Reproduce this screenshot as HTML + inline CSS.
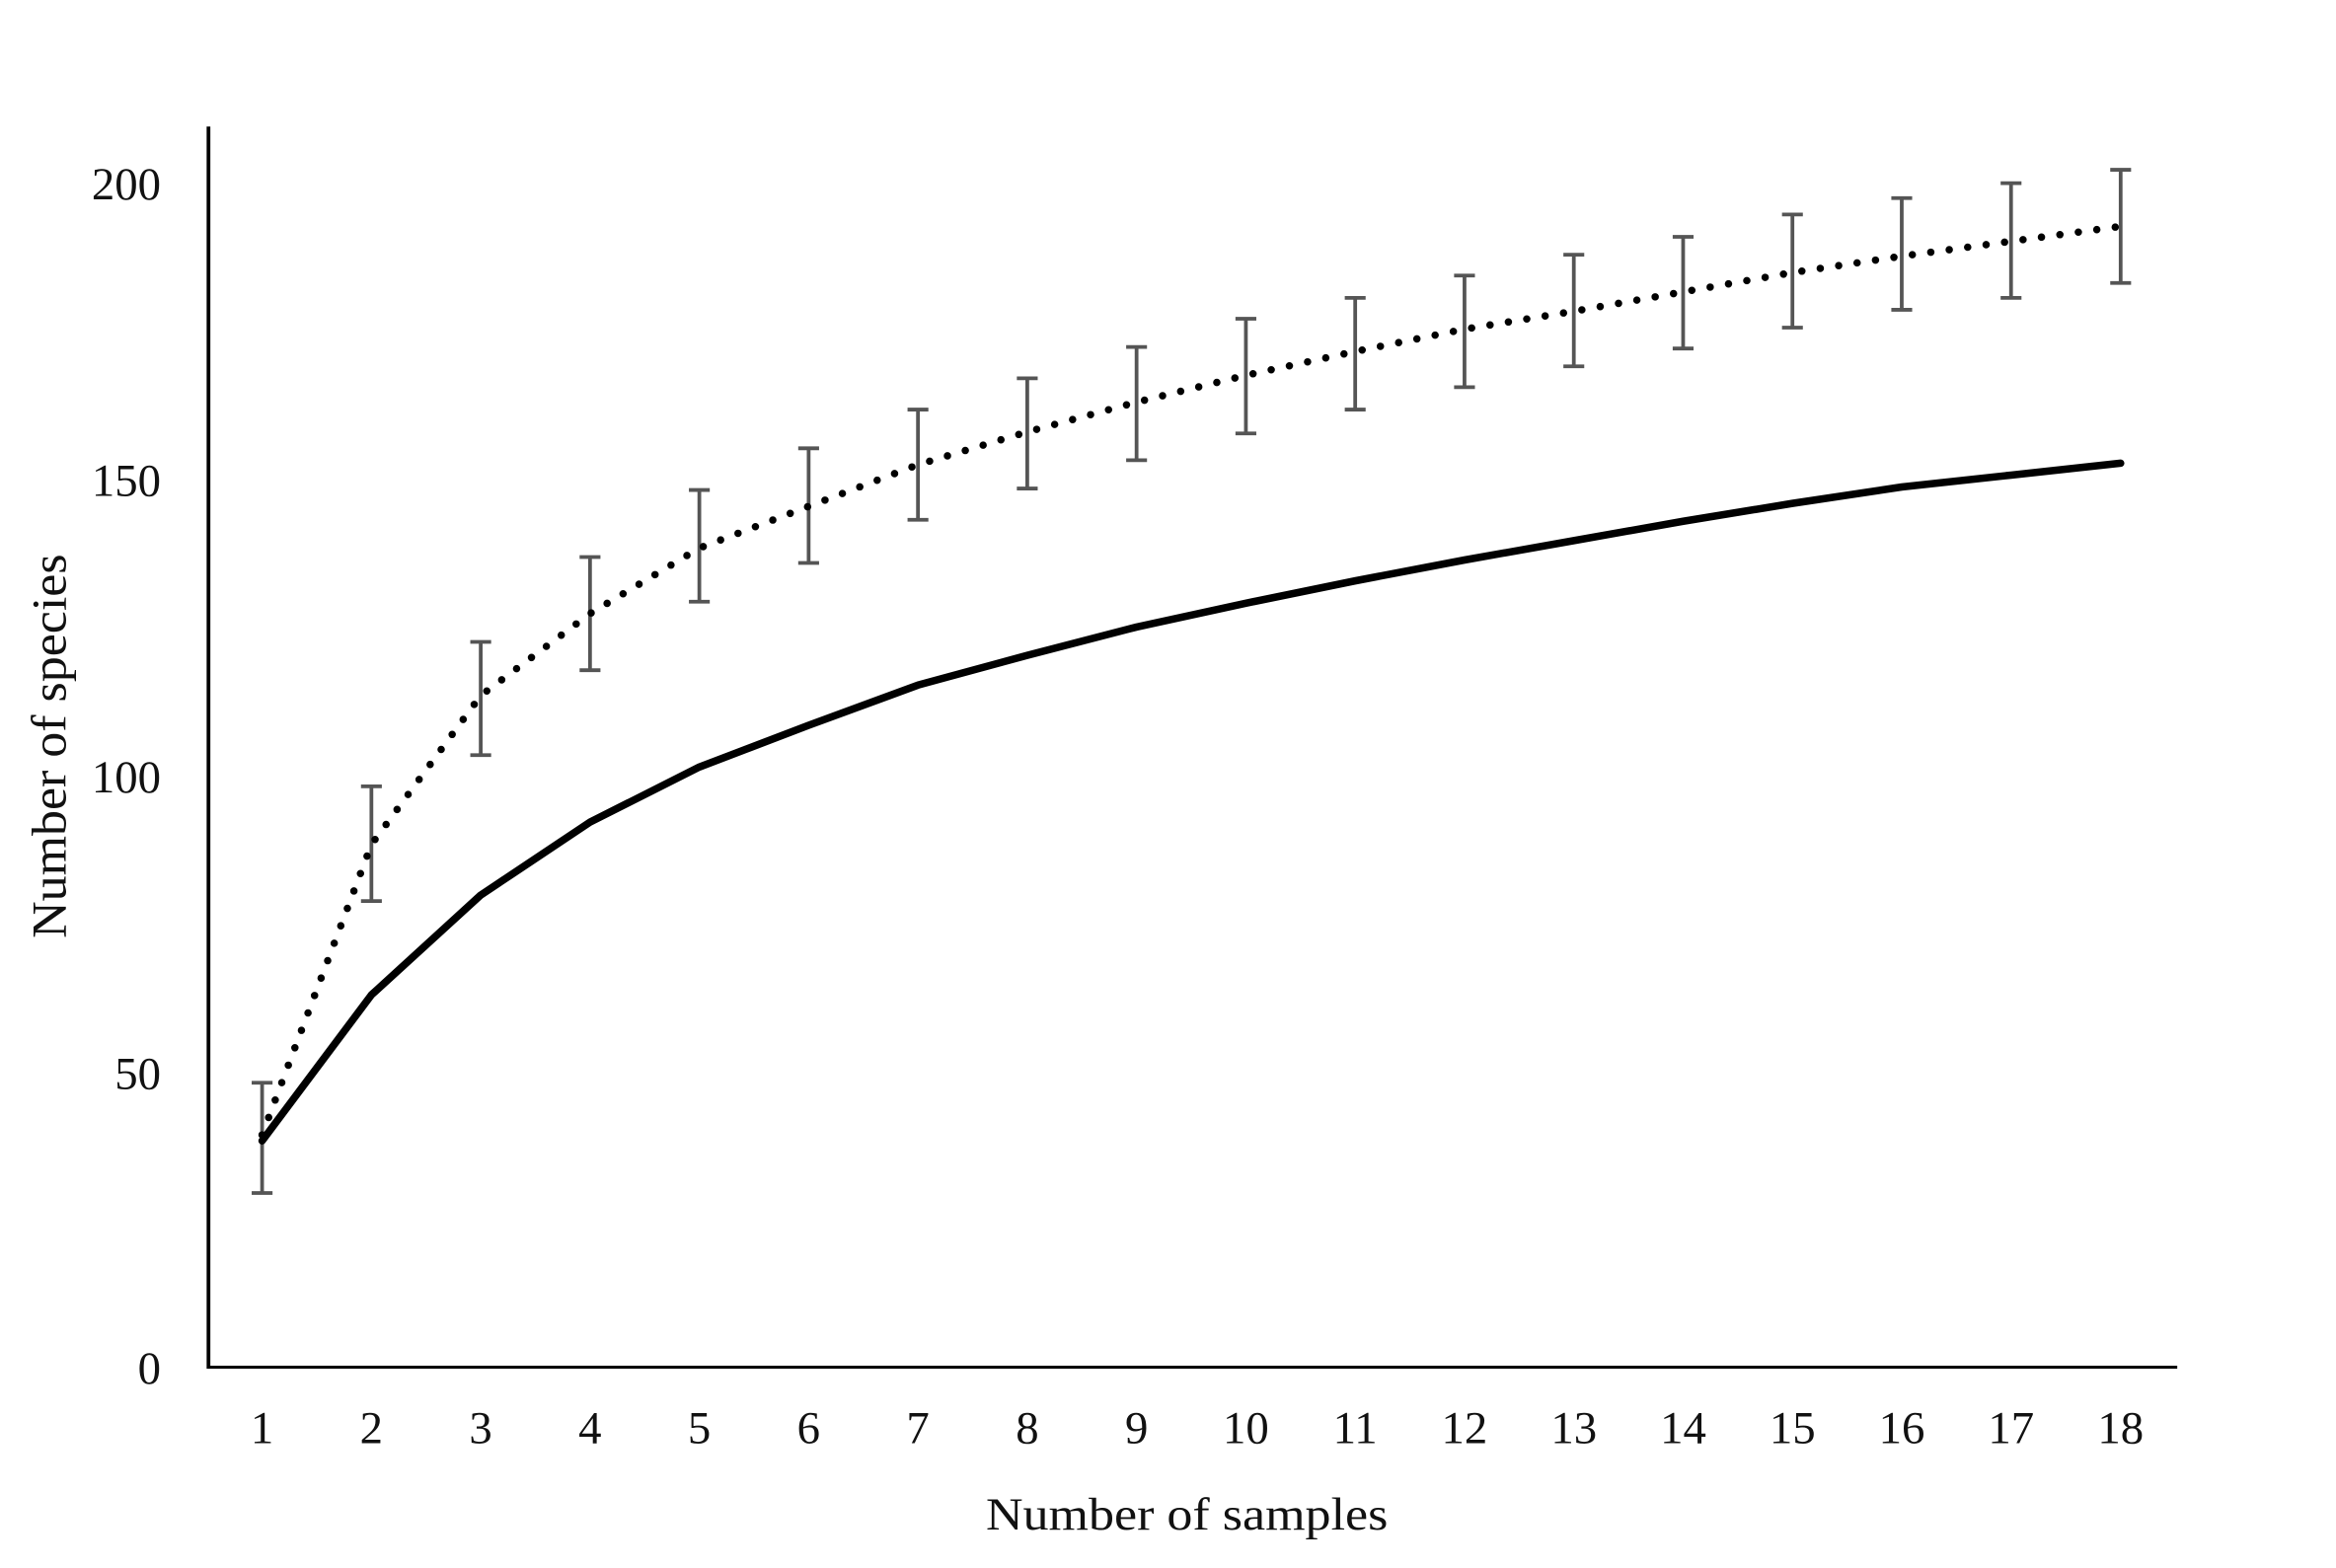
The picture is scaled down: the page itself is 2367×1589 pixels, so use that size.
<!DOCTYPE html>
<html><head><meta charset="utf-8"><style>
html,body{margin:0;padding:0;background:#fff;}
svg{display:block;}
text{font-family:"Liberation Serif",serif;fill:#111;}
</style></head><body>
<svg width="2367" height="1589" viewBox="0 0 1568.6 1052.8" preserveAspectRatio="none" xmlns="http://www.w3.org/2000/svg">
<rect width="1570" height="1055" fill="#fff"/>
<line x1="140" y1="85" x2="140" y2="919" stroke="#000" stroke-width="2.5"/>
<line x1="139" y1="918" x2="1462" y2="918" stroke="#000" stroke-width="2"/>
<g font-size="31" text-anchor="end">
<text x="108" y="134">200</text>
<text x="108" y="333">150</text>
<text x="108" y="532">100</text>
<text x="108" y="731">50</text>
<text x="108" y="929">0</text>
</g>
<g font-size="31" text-anchor="middle">
<text x="176" y="969">1</text><text x="249.4" y="969">2</text><text x="322.8" y="969">3</text><text x="396.2" y="969">4</text><text x="469.6" y="969">5</text><text x="543" y="969">6</text><text x="616.4" y="969">7</text><text x="689.8" y="969">8</text><text x="763.2" y="969">9</text><text x="836.6" y="969">10</text><text x="910" y="969">11</text><text x="983.4" y="969">12</text><text x="1056.8" y="969">13</text><text x="1130.2" y="969">14</text><text x="1203.6" y="969">15</text><text x="1277" y="969">16</text><text x="1350.4" y="969">17</text><text x="1424" y="969">18</text>
</g>
<text x="662" y="1027" font-size="31" textLength="270" lengthAdjust="spacingAndGlyphs">Number of samples</text>
<text transform="translate(44,630) rotate(-90)" font-size="33" textLength="258" lengthAdjust="spacingAndGlyphs">Number of species</text>
<g stroke="#555" stroke-width="2.5" fill="none">
<path d="M176 727V801M169 727H183M169 801H183"/>
<path d="M249.4 528V605M242.4 528H256.4M242.4 605H256.4"/>
<path d="M322.8 431V507M315.8 431H329.8M315.8 507H329.8"/>
<path d="M396.2 374V450M389.2 374H403.2M389.2 450H403.2"/>
<path d="M469.6 329V404M462.6 329H476.6M462.6 404H476.6"/>
<path d="M543 301V378M536 301H550M536 378H550"/>
<path d="M616.4 275V349M609.4 275H623.4M609.4 349H623.4"/>
<path d="M689.8 254V328M682.8 254H696.8M682.8 328H696.8"/>
<path d="M763.2 233V309M756.2 233H770.2M756.2 309H770.2"/>
<path d="M836.6 214V291M829.6 214H843.6M829.6 291H843.6"/>
<path d="M910 200V275M903 200H917M903 275H917"/>
<path d="M983.4 185V260M976.4 185H990.4M976.4 260H990.4"/>
<path d="M1056.8 171V246M1049.8 171H1063.8M1049.8 246H1063.8"/>
<path d="M1130.2 159V234M1123.2 159H1137.2M1123.2 234H1137.2"/>
<path d="M1203.6 144V220M1196.6 144H1210.6M1196.6 220H1210.6"/>
<path d="M1277 133V208M1270 133H1284M1270 208H1284"/>
<path d="M1350.4 123V200M1343.4 123H1357.4M1343.4 200H1357.4"/>
<path d="M1424 114V190M1417 114H1431M1417 190H1431"/>
</g>
<polyline fill="none" stroke="#000" stroke-width="5" stroke-linejoin="round" stroke-linecap="round" points="176,766 249.4,668 322.8,601 396.2,552 469.6,515 543,487 616.4,460 689.8,440 763.2,421 836.6,405 910,390 983.4,376 1056.8,363 1130.2,350 1203.6,338 1277,327 1350.4,319 1424,311"/>
<polyline fill="none" stroke="#000" stroke-width="5" stroke-dasharray="0 12.5" stroke-linecap="round" points="176,762 249.4,567 322.8,467 396.2,412 469.6,368 543,340 616.4,312 689.8,290 763.2,270 836.6,252 910,236 983.4,221 1056.8,209 1130.2,196 1203.6,183 1277,172 1350.4,162 1424,152"/>
</svg>
</body></html>
